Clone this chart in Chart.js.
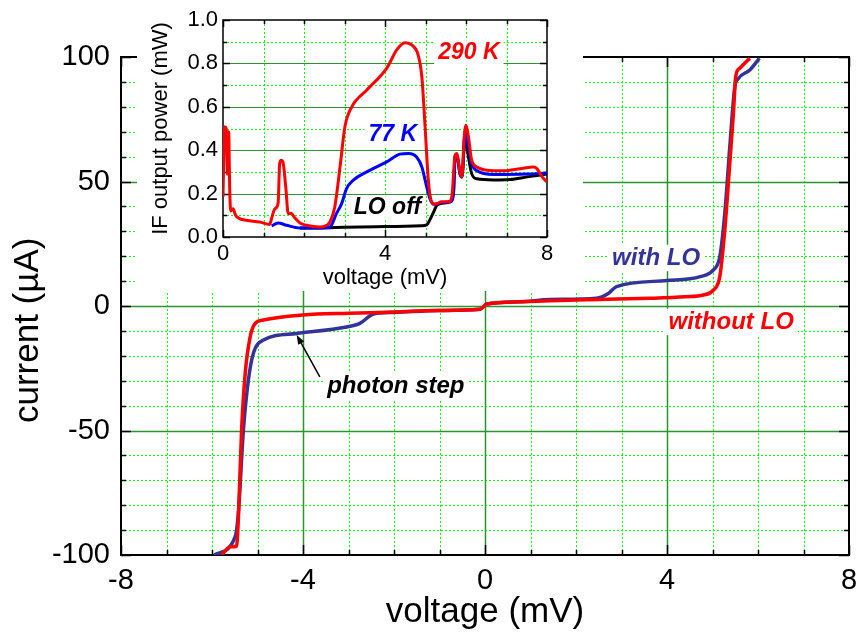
<!DOCTYPE html>
<html>
<head>
<meta charset="utf-8">
<script src="https://cdn.jsdelivr.net/npm/chart.js@4.4.0/dist/chart.umd.min.js"></script>
<style>
  html, body { margin: 0; padding: 0; background: #fff; }
  #wrap { position: relative; width: 857px; height: 637px; }
  #main { position: absolute; left: 0; top: 0; }
  #inset { position: absolute; left: 137px; top: 0; background: #fff; }
</style>
</head>
<body>
<div id="wrap">
  <canvas id="main" width="857" height="637"></canvas>
  <canvas id="inset" width="446" height="291"></canvas>
</div>
<script>
/* ---- I-V curves (main plot) ---- */
const ivVoltNoLO = [-5.79, -5.6, -5.46, -5.42, -5.35, -5.27, -5.16, -5.05, -4.87, -4.0, -3.0, -2.16, -1.0, -0.11, 0.04, 0.77, 1.43, 2.5, 3.63, 4.4, 4.8, 5.02, 5.16, 5.27, 5.38, 5.46, 5.51, 5.6, 5.82];
const ivCurrNoLO = [-100, -96.7, -96.5, -85, -50, -27, -12.3, -7, -5.6, -3.6, -2.9, -2.5, -1.8, -1.3, 0.8, 1.7, 2.1, 2.6, 3.1, 3.7, 4.4, 6.4, 11.8, 30.5, 57.3, 77.4, 92.1, 95.5, 99.5];

const ivVoltLO = [-5.95, -5.49, -5.42, -5.31, -5.2, -5.09, -4.87, -4.14, -3.04, -2.75, -2.45, -2.0, -1.0, -0.11, 0.04, 0.77, 1.43, 2.45, 2.71, 2.89, 4.0, 4.73, 5.02, 5.16, 5.27, 5.38, 5.49, 5.57, 5.82, 6.03];
const ivCurrLO = [-100, -92.6, -83, -50, -29.7, -19, -13.7, -11, -8.4, -7, -3.2, -2.6, -1.8, -1.3, 0.8, 1.7, 2.6, 3.1, 5.0, 7.8, 10.2, 11.8, 14.5, 19.8, 37.2, 64, 88, 91.4, 94.8, 99.5];

/* ---- IF output power (inset) ---- */
const ifVolt290 = [0, 0.04, 0.08, 0.11, 0.14, 0.165, 0.19, 0.25, 0.31, 0.41, 0.58, 0.91, 1.15, 1.2, 1.28, 1.36, 1.4, 1.44, 1.48, 1.55, 1.61, 1.69, 1.77, 1.9, 2.06, 2.39, 2.56, 2.64, 2.76, 2.89, 3.01, 3.18, 3.55, 4.04, 4.29, 4.49, 4.66, 4.82, 4.91, 4.99, 5.07, 5.15, 5.24, 5.4, 5.57, 5.65, 5.73, 5.77, 5.86, 5.9, 5.95, 6.0, 6.06, 6.14, 6.27, 6.52, 6.93, 7.34, 7.67, 7.75, 7.88, 8.0];
const ifPow290 = [0.185, 0.508, 0.5, 0.29, 0.485, 0.23, 0.12, 0.13, 0.1, 0.085, 0.077, 0.069, 0.058, 0.085, 0.13, 0.154, 0.34, 0.354, 0.346, 0.23, 0.108, 0.108, 0.089, 0.065, 0.054, 0.046, 0.054, 0.069, 0.138, 0.323, 0.508, 0.6, 0.677, 0.777, 0.862, 0.895, 0.885, 0.838, 0.738, 0.508, 0.262, 0.162, 0.151, 0.162, 0.162, 0.185, 0.377, 0.385, 0.292, 0.277, 0.446, 0.515, 0.462, 0.354, 0.323, 0.308, 0.305, 0.315, 0.323, 0.315, 0.277, 0.254];

const ifVolt77 = [1.2, 1.36, 1.57, 1.9, 2.39, 2.64, 2.8, 2.93, 3.05, 3.22, 3.55, 4.04, 4.37, 4.58, 4.78, 4.91, 5.03, 5.11, 5.2, 5.4, 5.61, 5.69, 5.73, 5.77, 5.86, 5.9, 5.98, 6.06, 6.14, 6.27, 6.68, 7.51, 8.0];
const ifPow77 = [0.051, 0.065, 0.054, 0.042, 0.042, 0.046, 0.108, 0.154, 0.223, 0.262, 0.3, 0.346, 0.382, 0.385, 0.369, 0.323, 0.231, 0.177, 0.151, 0.158, 0.162, 0.2, 0.369, 0.375, 0.285, 0.277, 0.492, 0.415, 0.338, 0.305, 0.288, 0.29, 0.295];

const ifVoltOff = [1.9, 2.39, 3.0, 4.0, 4.9, 5.03, 5.11, 5.2, 5.28, 5.4, 5.61, 5.69, 5.73, 5.77, 5.86, 5.9, 5.98, 6.06, 6.14, 6.27, 6.68, 7.09, 7.51, 8.0];
const ifPowOff = [0.042, 0.042, 0.045, 0.048, 0.052, 0.056, 0.08, 0.115, 0.146, 0.155, 0.162, 0.2, 0.369, 0.375, 0.285, 0.277, 0.46, 0.369, 0.292, 0.268, 0.263, 0.265, 0.277, 0.29];

/* ---- tick labels ---- */
const mainXTicks = [-8, -4, 0, 4, 8];
const mainYTicks = [-100, -50, 0, 50, 100];
const insetXTicks = [0, 4, 8];
const insetYTicks = [0, 0.2, 0.4, 0.6, 0.8, 1.0];

const FONT = "'Liberation Sans', Arial, Helvetica, sans-serif";
const NBSP = "\u00a0";
const pts = (xs, ys) => xs.map((v, i) => ({ x: v, y: ys[i] }));

/* =========================
   GRID / FRAME / LABELS PLUGIN
========================= */
function paperPlugin(o) {
    const onStep = (v, step) => Math.abs(v / step - Math.round(v / step)) < 1e-6;
    const steps = (min, max, step) => {
        const out = [];
        for (let i = 0; min + i * step <= max + 1e-9; i++) out.push(+(min + i * step).toFixed(6));
        return out;
    };
    return {
        id: "paper",
        beforeDatasetsDraw(chart) {
            const { ctx, chartArea: a } = chart;
            const sx = chart.scales.x, sy = chart.scales.y;
            const seg = (x1, y1, x2, y2) => { ctx.beginPath(); ctx.moveTo(x1, y1); ctx.lineTo(x2, y2); ctx.stroke(); };
            const xs = steps(sx.min, sx.max, o.xMinor);
            const ys = steps(sy.min, sy.max, o.yMinor);
            const px = v => Math.round(sx.getPixelForValue(v)) + 0.5;
            const py = v => Math.round(sy.getPixelForValue(v)) + 0.5;
            ctx.save();

            // minor dotted grid
            ctx.setLineDash([2, 2]);
            ctx.lineWidth = 1;
            ctx.strokeStyle = "#00ff00";
            xs.forEach(v => { if (v > sx.min && v < sx.max && !(o.xMajorGrid && onStep(v, o.xMajor))) seg(px(v), a.top, px(v), a.bottom); });
            ys.forEach(v => { if (v > sy.min && v < sy.max && !onStep(v, o.yMajor)) seg(a.left, py(v), a.right, py(v)); });

            // major solid grid
            ctx.setLineDash([]);
            ctx.lineWidth = o.majorWidth;
            ctx.strokeStyle = "#2a962a";
            if (o.xMajorGrid) xs.forEach(v => { if (v > sx.min && v < sx.max && onStep(v, o.xMajor)) seg(px(v), a.top, px(v), a.bottom); });
            ys.forEach(v => { if (v > sy.min && v < sy.max && onStep(v, o.yMajor)) seg(a.left, py(v), a.right, py(v)); });

            // labels with white box
            o.labels.forEach(l => {
                ctx.font = "italic bold " + l.size + "px " + FONT;
                const w = ctx.measureText(l.text).width;
                const cx = sx.getPixelForValue(l.x), cy = sy.getPixelForValue(l.y);
                ctx.fillStyle = "#fff";
                ctx.fillRect(cx - w / 2 - 4, cy - l.size * 0.55, w + 8, l.size * 1.1);
                ctx.fillStyle = l.color;
                ctx.textAlign = "center";
                ctx.textBaseline = "middle";
                ctx.fillText(l.text, cx, cy);
            });

            // frame + inward ticks
            ctx.strokeStyle = "#000";
            ctx.lineWidth = 1.5;
            xs.forEach(v => {
                const len = onStep(v, o.xMajor) ? o.tickMajor : o.tickMinor;
                seg(px(v), a.bottom, px(v), a.bottom - len);
                seg(px(v), a.top, px(v), a.top + len);
            });
            ys.forEach(v => {
                const len = onStep(v, o.yMajor) ? o.tickMajor : o.tickMinor;
                seg(a.left, py(v), a.left + len, py(v));
                seg(a.right, py(v), a.right - len, py(v));
            });
            ctx.lineWidth = o.frameWidth;
            ctx.strokeRect(a.left, a.top, a.right - a.left, a.bottom - a.top);
            ctx.restore();
        },
        afterDatasetsDraw(chart) {
            if (!o.arrow) return;
            const { ctx } = chart;
            const sx = chart.scales.x, sy = chart.scales.y;
            const x1 = sx.getPixelForValue(o.arrow.from[0]), y1 = sy.getPixelForValue(o.arrow.from[1]);
            const x2 = sx.getPixelForValue(o.arrow.to[0]), y2 = sy.getPixelForValue(o.arrow.to[1]);
            const ang = Math.atan2(y2 - y1, x2 - x1);
            ctx.save();
            ctx.strokeStyle = "#000";
            ctx.fillStyle = "#000";
            ctx.lineWidth = 1.5;
            ctx.beginPath();
            ctx.moveTo(x1, y1);
            ctx.lineTo(x2 - 6 * Math.cos(ang), y2 - 6 * Math.sin(ang));
            ctx.stroke();
            ctx.beginPath();
            ctx.moveTo(x2, y2);
            ctx.lineTo(x2 - 10 * Math.cos(ang - 0.35), y2 - 10 * Math.sin(ang - 0.35));
            ctx.lineTo(x2 - 10 * Math.cos(ang + 0.35), y2 - 10 * Math.sin(ang + 0.35));
            ctx.closePath();
            ctx.fill();
            ctx.restore();
        }
    };
}

const curve = (label, xs, ys, color, width) => ({
    label, data: pts(xs, ys), borderColor: color, backgroundColor: color,
    borderWidth: width, pointRadius: 0, fill: false, cubicInterpolationMode: "monotone"
});

const noPad = s => { s.paddingLeft = 0; s.paddingRight = 0; s.paddingTop = 0; s.paddingBottom = 0; };

/* =========================
   MAIN I-V CHART
========================= */
new Chart(document.getElementById("main"), {
    type: "line",
    data: {
        datasets: [
            curve("without LO", ivVoltNoLO, ivCurrNoLO, "#ff0000", 3.5),
            curve("with LO", ivVoltLO, ivCurrLO, "#333399", 3.5)
        ]
    },
    options: {
        responsive: false,
        animation: false,
        layout: { padding: { top: 57, right: 8, left: 0, bottom: 0 } },
        plugins: { legend: { display: false }, tooltip: { enabled: false } },
        scales: {
            x: {
                type: "linear", min: -8, max: 8,
                grid: { display: false, drawTicks: false }, border: { display: false },
                afterBuildTicks: s => { s.ticks = mainXTicks.map(v => ({ value: v })); },
                afterFit: s => { s.height = 82; noPad(s); },
                ticks: { font: { family: FONT, size: 29 }, color: "#000", padding: 9, maxRotation: 0 },
                title: { display: true, text: "voltage (mV)", color: "#000", font: { family: FONT, size: 35 }, padding: { top: 0, bottom: 4 } }
            },
            y: {
                type: "linear", min: -100, max: 100,
                grid: { display: false, drawTicks: false }, border: { display: false },
                afterBuildTicks: s => { s.ticks = mainYTicks.map(v => ({ value: v })); },
                afterFit: s => { s.width = 121; noPad(s); },
                ticks: { font: { family: FONT, size: 29 }, color: "#000", padding: 11 },
                title: { display: true, text: "current (µA)" + NBSP.repeat(5), color: "#000", font: { family: FONT, size: 35 }, padding: { top: 7, bottom: 0 } }
            }
        }
    },
    plugins: [paperPlugin({
        xMinor: 1, xMajor: 4, yMinor: 10, yMajor: 50, xMajorGrid: true,
        majorWidth: 1.5, frameWidth: 2, tickMinor: 5, tickMajor: 10,
        labels: [
            { text: "with LO", x: 3.76, y: 19.3, color: "#333399", size: 24 },
            { text: "without LO", x: 5.41, y: -6.4, color: "#ff0000", size: 24 },
            { text: "photon step", x: -1.96, y: -32.1, color: "#000", size: 24 }
        ],
        arrow: { from: [-3.63, -28.5], to: [-4.14, -11.6] }
    })]
});

/* =========================
   INSET IF POWER CHART
========================= */
new Chart(document.getElementById("inset"), {
    type: "line",
    data: {
        datasets: [
            curve("290 K", ifVolt290, ifPow290, "#ff0000", 3),
            curve("77 K", ifVolt77, ifPow77, "#0000ff", 3),
            curve("LO off", ifVoltOff, ifPowOff, "#000000", 3)
        ]
    },
    options: {
        responsive: false,
        animation: false,
        layout: { padding: { top: 20, right: 36, left: 0, bottom: 0 } },
        plugins: { legend: { display: false }, tooltip: { enabled: false } },
        scales: {
            x: {
                type: "linear", min: 0, max: 8,
                grid: { display: false, drawTicks: false }, border: { display: false },
                afterBuildTicks: s => { s.ticks = insetXTicks.map(v => ({ value: v })); },
                afterFit: s => { s.height = 54; noPad(s); },
                ticks: { font: { family: FONT, size: 22 }, color: "#000", padding: 4, maxRotation: 0 },
                title: { display: true, text: "voltage (mV)", color: "#000", font: { family: FONT, size: 22 }, padding: { top: 0, bottom: 0 } }
            },
            y: {
                type: "linear", min: 0, max: 1,
                grid: { display: false, drawTicks: false }, border: { display: false },
                afterBuildTicks: s => { s.ticks = insetYTicks.map(v => ({ value: v })); },
                afterFit: s => { s.width = 86; noPad(s); },
                ticks: { font: { family: FONT, size: 22 }, color: "#000", padding: 5, callback: v => v.toFixed(1) },
                title: { display: true, text: "IF output power (mW)", color: "#000", font: { family: FONT, size: 22 }, padding: { top: 11, bottom: 0 } }
            }
        }
    },
    plugins: [paperPlugin({
        xMinor: 1, xMajor: 4, yMinor: 0.1, yMajor: 0.2, xMajorGrid: false,
        majorWidth: 1.2, frameWidth: 1.5, tickMinor: 4, tickMajor: 7,
        labels: [
            { text: "290 K", x: 6.07, y: 0.848, color: "#ff0000", size: 23 },
            { text: "77 K", x: 4.19, y: 0.47, color: "#0000ff", size: 23 },
            { text: "LO off", x: 4.06, y: 0.134, color: "#000", size: 23 }
        ]
    })]
});
</script>
</body>
</html>
